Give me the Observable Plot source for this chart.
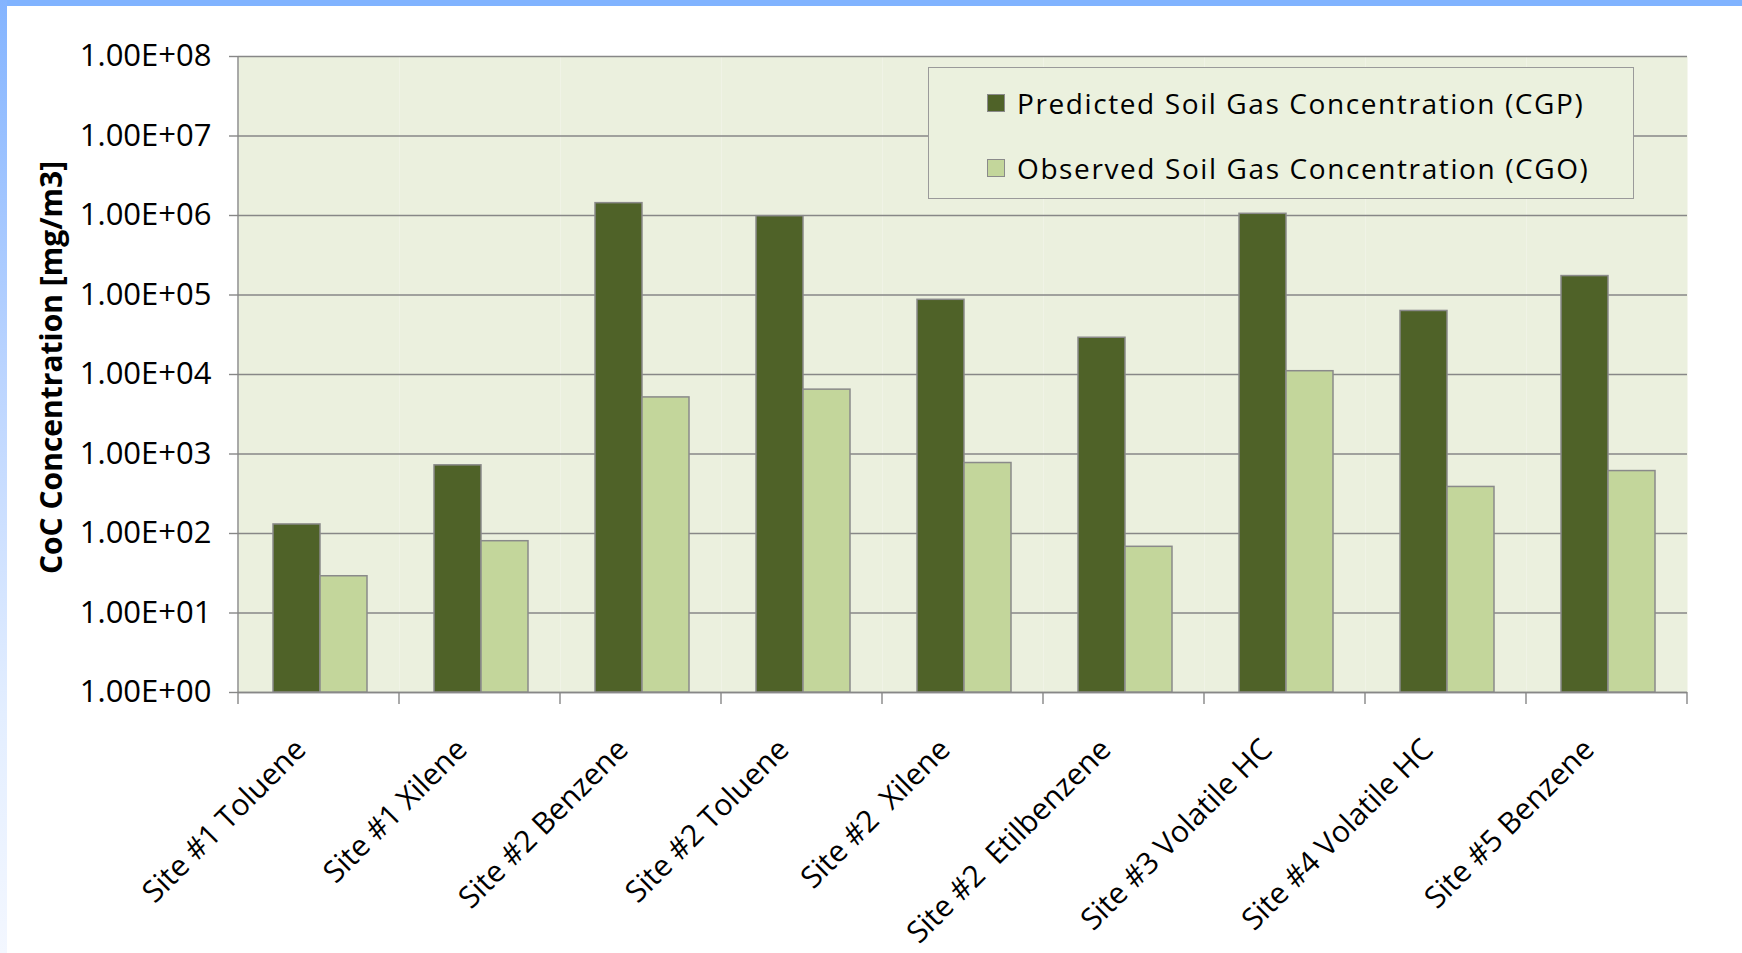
<!DOCTYPE html>
<html>
<head>
<meta charset="utf-8">
<script src="https://cdn.jsdelivr.net/npm/d3@7"></script>
<script src="https://cdn.jsdelivr.net/npm/@observablehq/plot@0.6"></script>
<style>
  html, body { margin: 0; padding: 0; background: #ffffff; width: 1742px; height: 953px; overflow: hidden; }
  #topbar { position: absolute; left: 0; top: 0; width: 1742px; height: 6px; background: #80b3ff; z-index: 5; }
  #leftbar { position: absolute; left: 0; top: 0; width: 7px; height: 953px; z-index: 5;
    background: linear-gradient(to bottom, #84b4ff 0%, #bcd5ff 40%, #e3eeff 75%, #f3f7ff 100%); }
  #chart { position: absolute; left: 0; top: 0; }
  #chart svg text { white-space: pre; }
  #chart svg { font-family: "Open Sans", sans-serif; }
  #chart svg g[aria-label="y-axis label"] text { font-weight: bold; font-size: 30px; }
  #legend { position: absolute; left: 928px; top: 67px; width: 706px; height: 132px; box-sizing: border-box;
    border: 1.5px solid #9a9a9a; background: #ebf1de; z-index: 3;
    font-family: "Liberation Sans Narrow", "Open Sans", sans-serif; font-size: 28px; letter-spacing: 1.6px; color: #000; }
  .item { position: absolute; left: 58px; display: flex; align-items: center; height: 34px; }
  .sw { width: 16px; height: 16px; border: 1px solid #8a8a8a; margin-right: 12px; }
</style>
</head>
<body>
<div id="topbar"></div>
<div id="leftbar"></div>
<div id="chart"></div>
<div id="legend"></div>
<script>
const categories = [
  "Site #1 Toluene", "Site #1 Xilene", "Site #2 Benzene", "Site #2 Toluene",
  "Site #2  Xilene", "Site #2  Etilbenzene", "Site #3 Volatile HC",
  "Site #4 Volatile HC", "Site #5 Benzene"
];
const seriesNames = ["Predicted Soil Gas Concentration (CGP)", "Observed Soil Gas Concentration (CGO)"];
const seriesColors = ["#4f6228", "#c3d69b"];
const predicted = [130, 720, 1.43e6, 9.8e5, 8.7e4, 2.9e4, 1.05e6, 6.3e4, 1.73e5];
const observed = [29, 80, 5150, 6450, 770, 68, 11000, 385, 610];
const yTicks = [1, 10, 100, 1e3, 1e4, 1e5, 1e6, 1e7, 1e8];
const yTickLabels = ["1.00E+00", "1.00E+01", "1.00E+02", "1.00E+03", "1.00E+04", "1.00E+05", "1.00E+06", "1.00E+07", "1.00E+08"];
const yLabel = "CoC Concentration [mg/m3]";

const rows = [];
categories.forEach((c, i) => {
  rows.push({category: c, series: seriesNames[0], value: predicted[i]});
  rows.push({category: c, series: seriesNames[1], value: observed[i]});
});

const gridColor = "#878787";

const plot = Plot.plot({
  width: 1742,
  height: 953,
  marginLeft: 238,
  marginRight: 55,
  marginTop: 56,
  marginBottom: 261,
  style: {background: "transparent", fontSize: "27px", color: "#000"},
  fx: {domain: categories, padding: 0, label: null},
  x: {domain: seriesNames, paddingInner: 0, paddingOuter: 0.71, align: 0.52, axis: null},
  y: {type: "log", domain: [1, 1e8], axis: null},
  color: {domain: seriesNames, range: seriesColors},
  marks: [
    Plot.frame({fill: "#ebf0de", stroke: null}),
    Plot.gridY(yTicks, {stroke: gridColor, strokeOpacity: 1, strokeWidth: 1.4}),
    Plot.ruleY([1], {stroke: gridColor, strokeWidth: 1.4}),
    Plot.barY(rows, {
      fx: "category", x: "series", y1: 1, y2: "value", fill: "series",
      stroke: "#8a8a8a", strokeWidth: 1.5, inset: 0
    }),
    Plot.axisY({
      ticks: yTicks,
      tickFormat: d => yTickLabels[yTicks.indexOf(d)],
      tickSize: 9, tickPadding: 18, stroke: gridColor, strokeWidth: 1.4,
      fontSize: 31, label: yLabel, labelAnchor: "center", labelArrow: "none", labelOffset: 198
    }),
    Plot.axisFx({
      anchor: "bottom", tickRotate: -45, tickSize: 0, tickPadding: 52, dx: -18, fontSize: 30, label: null
    })
  ]
});

document.getElementById("chart").appendChild(plot);

// Left axis line and category separator ticks, via the plot's own scales
const fxs = plot.scale("fx");
const ys = plot.scale("y");
const svg = d3.select(plot);
const yb = ys.apply(1), yt = ys.apply(1e8);
const edges = categories.map(c => fxs.apply(c));
edges.push(edges[edges.length - 1] + fxs.bandwidth);
const g = svg.append("g").attr("stroke", gridColor).attr("stroke-width", 1.4);
g.append("line").attr("x1", edges[0]).attr("x2", edges[0]).attr("y1", yt).attr("y2", yb + 12);
edges.slice(1).forEach(e => {
  g.append("line").attr("x1", e).attr("x2", e).attr("y1", yb).attr("y2", yb + 12);
});
// nudge the y-axis title slightly upward, as in the reference
const lab = svg.select('g[aria-label="y-axis label"]');
lab.attr("transform", "translate(0,-7) " + (lab.attr("transform") || ""));

// Legend
const legend = document.getElementById("legend");
seriesNames.forEach((s, i) => {
  const it = document.createElement("div");
  it.className = "item";
  it.style.top = (i === 0 ? 18 : 83) + "px";
  const sw = document.createElement("div");
  sw.className = "sw";
  sw.style.background = seriesColors[i];
  const tx = document.createElement("span");
  tx.textContent = s;
  it.appendChild(sw);
  it.appendChild(tx);
  legend.appendChild(it);
});
</script>
</body>
</html>
